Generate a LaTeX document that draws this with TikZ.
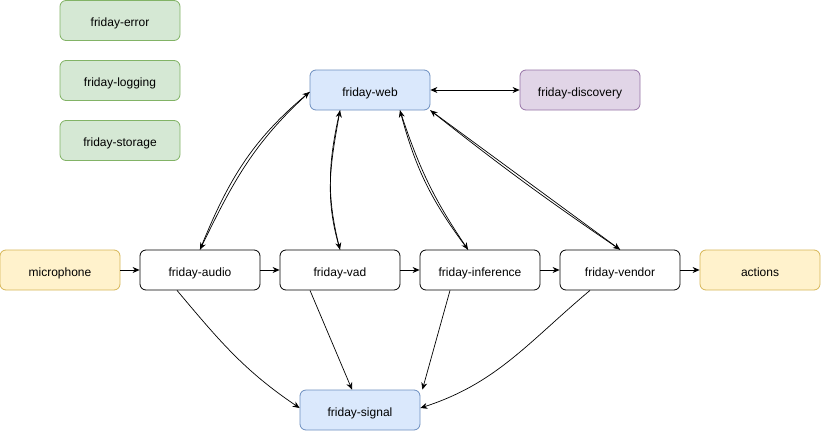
\documentclass[tikz,border=0pt]{standalone}
\usepackage{fontspec}
\setmainfont{Liberation Sans}
\usepackage{tikz}
\usetikzlibrary{arrows.meta}
\definecolor{greenfill}{HTML}{D5E8D4}
\definecolor{greenline}{HTML}{82B366}
\definecolor{bluefill}{HTML}{DAE8FC}
\definecolor{blueline}{HTML}{6C8EBF}
\definecolor{purplefill}{HTML}{E1D5E7}
\definecolor{purpleline}{HTML}{9673A6}
\definecolor{yellowfill}{HTML}{FFF2CC}
\definecolor{yellowline}{HTML}{D6B656}

\begin{document}
\begin{tikzpicture}[x=1pt, y=1pt,
    font=\fontsize{12}{14}\selectfont,
    >={Stealth[length=7pt, width=6pt]},
    box/.style={draw=black, line width=0.8pt, rounded corners=6pt, fill=white,
        minimum width=120pt, minimum height=40pt, inner sep=0pt,
        text height=12pt, text depth=0pt},
    greenbox/.style={box, draw=greenline, fill=greenfill},
    bluebox/.style={box, draw=blueline, fill=bluefill},
    purplebox/.style={box, draw=purpleline, fill=purplefill},
    yellowbox/.style={box, draw=yellowline, fill=yellowfill},
    link/.style={line width=0.7pt, ->}]
    \useasboundingbox (0,0) rectangle (821,-431);

    % Shared services
    \node[greenbox] (error)   at (120,-20.5)  {friday-error};
    \node[greenbox] (logging) at (120,-80.5)  {friday-logging};
    \node[greenbox] (storage) at (120,-140.5) {friday-storage};

    % Web and discovery
    \node[bluebox]   (web)       at (370,-90) {friday-web};
    \node[purplebox] (discovery) at (580,-90) {friday-discovery};

    % Pipeline
    \node[yellowbox] (mic)       at (60,-270)  {microphone};
    \node[box]       (audio)     at (200,-270) {friday-audio};
    \node[box]       (vad)       at (340,-270) {friday-vad};
    \node[box]       (inference) at (480,-270) {friday-inference};
    \node[box]       (vendor)    at (620,-270) {friday-vendor};
    \node[yellowbox] (actions)   at (760,-270) {actions};

    % Signal
    \node[bluebox] (signal) at (360,-410) {friday-signal};

    % Pipeline flow
    \foreach \a/\b in {mic/audio, audio/vad, vad/inference, inference/vendor, vendor/actions}
        \draw[link] (\a) -- (\b);

    % Web links
    \draw[link, <->] (web) -- (discovery);
    \draw[link] (audio.north) to[out=68, in=220] ([yshift=-2pt]web.west);
    \draw[link] ([yshift=-2pt]web.west) to[out=222, in=64] (audio.north);
    \draw[link] (vad.north) to[out=107, in=-100] ([xshift=-30pt]web.south);
    \draw[link] ([xshift=-30pt]web.south) to[out=-103, in=104] (vad.north);
    \draw[link] ([xshift=30pt]web.south) to[bend right=8] ([xshift=-12pt]inference.north);
    \draw[link] ([xshift=-12pt]inference.north) to[bend left=11] ([xshift=30pt]web.south);
    \draw[link] (web.south east) -- (vendor.north);
    \draw[link] (vendor.north) to[bend left=2] (web.south east);

    % Signal links
    \draw[link] ([xshift=-23pt]audio.south) to[out=-50, in=146] ([yshift=2pt]signal.west);
    \draw[link] ([xshift=-30pt]vad.south) -- ([xshift=-8pt]signal.north);
    \draw[link] ([xshift=-30pt]inference.south) -- ([xshift=2pt]signal.north east);
    \draw[link] ([xshift=-30pt]vendor.south) to[out=-140, in=18] ([yshift=2pt]signal.east);
\end{tikzpicture}
\end{document}
